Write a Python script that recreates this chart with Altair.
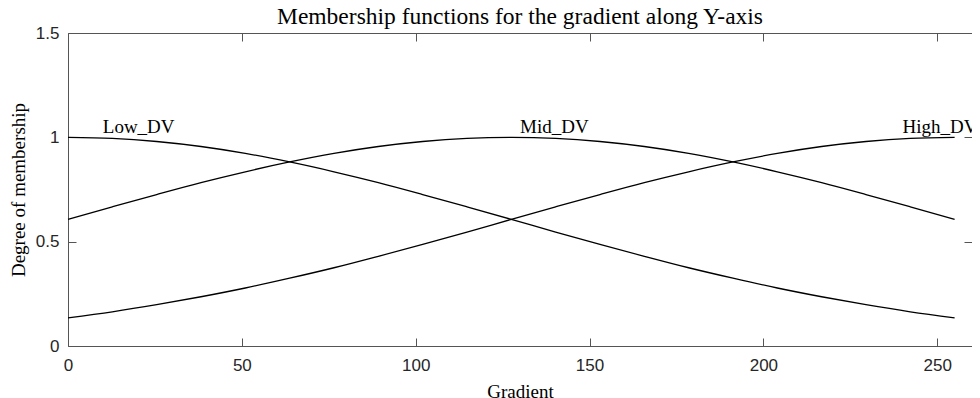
import altair as alt
import pandas as pd

# Values
gradient = [0, 12.75, 25.5, 38.25, 51, 63.75, 76.5, 89.25, 102, 114.75, 127.5,
            140.25, 153, 165.75, 178.5, 191.25, 204, 216.75, 229.5, 242.25, 255]
low_dv = [1.000, 0.995, 0.980, 0.956, 0.923, 0.882, 0.835, 0.783, 0.726, 0.667, 0.607,
          0.546, 0.487, 0.430, 0.375, 0.325, 0.278, 0.236, 0.198, 0.164, 0.135]
mid_dv = [0.607, 0.667, 0.726, 0.783, 0.835, 0.882, 0.923, 0.956, 0.980, 0.995, 1.000,
          0.995, 0.980, 0.956, 0.923, 0.882, 0.835, 0.783, 0.726, 0.667, 0.607]
high_dv = [0.135, 0.164, 0.198, 0.236, 0.278, 0.325, 0.375, 0.430, 0.487, 0.546, 0.607,
           0.667, 0.726, 0.783, 0.835, 0.882, 0.923, 0.956, 0.980, 0.995, 1.000]
series_names = ["Low_DV", "Mid_DV", "High_DV"]
label_x = [10, 130, 240]
label_y = [1.02, 1.02, 1.02]
x_ticks = [0, 50, 100, 150, 200, 250]
y_ticks = [0, 0.5, 1, 1.5]

rows = []
for name, vals in zip(series_names, [low_dv, mid_dv, high_dv]):
    for g, v in zip(gradient, vals):
        rows.append({"Gradient": g, "Membership": v, "Function": name})
df = pd.DataFrame(rows)
labels_df = pd.DataFrame({"Gradient": label_x, "Membership": label_y, "Label": series_names})

AXIS_GRAY = "#555555"
xscale = alt.Scale(domain=[0, 260], nice=False, zero=False)
yscale = alt.Scale(domain=[0, 1.5], nice=False)

lines = alt.Chart(df).mark_line(color="black", strokeWidth=1.3, interpolate="monotone").encode(
    x=alt.X("Gradient:Q", scale=xscale,
            axis=alt.Axis(values=x_ticks, title="Gradient", ticks=False, domain=False,
                          labelPadding=11, titlePadding=9, grid=False, labelFlush=False)),
    y=alt.Y("Membership:Q", scale=yscale,
            axis=alt.Axis(values=y_ticks, format=".1~f", title="Degree of membership",
                          ticks=False, domain=False, labelPadding=9, titlePadding=7,
                          grid=False)),
    detail="Function:N",
)

ticks_bl = alt.Chart(df).mark_line(opacity=0).encode(
    x=alt.X("Gradient:Q", scale=xscale, title=None,
            axis=alt.Axis(values=x_ticks, labels=False, domain=False, ticks=True,
                          tickSize=8, offset=-8, grid=False, orient="bottom")),
    y=alt.Y("Membership:Q", scale=yscale, title=None,
            axis=alt.Axis(values=y_ticks, labels=False, domain=False, ticks=True,
                          tickSize=8, offset=-8, grid=False, orient="left")),
    detail="Function:N",
)

ticks_tr = alt.Chart(df).mark_line(opacity=0).encode(
    x=alt.X("Gradient:Q", scale=xscale, title=None,
            axis=alt.Axis(values=x_ticks, labels=False, domain=False, ticks=True,
                          tickSize=8, offset=-8, grid=False, orient="top")),
    y=alt.Y("Membership:Q", scale=yscale, title=None,
            axis=alt.Axis(values=y_ticks, labels=False, domain=False, ticks=True,
                          tickSize=8, offset=-8, grid=False, orient="right")),
    detail="Function:N",
)

texts = alt.Chart(labels_df).mark_text(
    align="left", baseline="alphabetic", font="Liberation Serif", fontSize=19, color="black"
).encode(
    x=alt.X("Gradient:Q", scale=xscale, axis=None),
    y=alt.Y("Membership:Q", scale=yscale, axis=None),
    text="Label:N",
)

chart = alt.layer(lines, ticks_bl, ticks_tr, texts).resolve_axis(
    x="independent", y="independent"
).properties(
    width=904,
    height=313,
    autosize=alt.AutoSizeParams(type="none"),
    padding={"left": 60, "top": 25, "right": 0, "bottom": 56},
    title=alt.TitleParams(
        text="Membership functions for the gradient along Y-axis",
        font="Liberation Serif", fontSize=23.5, fontWeight="normal", color="black",
        anchor="middle", frame="group", offset=-4,
    ),
).configure_view(
    stroke=AXIS_GRAY, strokeWidth=1
).configure_axis(
    labelFont="Liberation Sans", labelFontSize=17, labelColor="#262626",
    titleFont="Liberation Serif", titleFontSize=19, titleFontWeight="normal",
    titleColor="black", tickColor=AXIS_GRAY, tickWidth=1,
)

chart.save("out.html", embed_options={"renderer": "svg", "actions": False})
